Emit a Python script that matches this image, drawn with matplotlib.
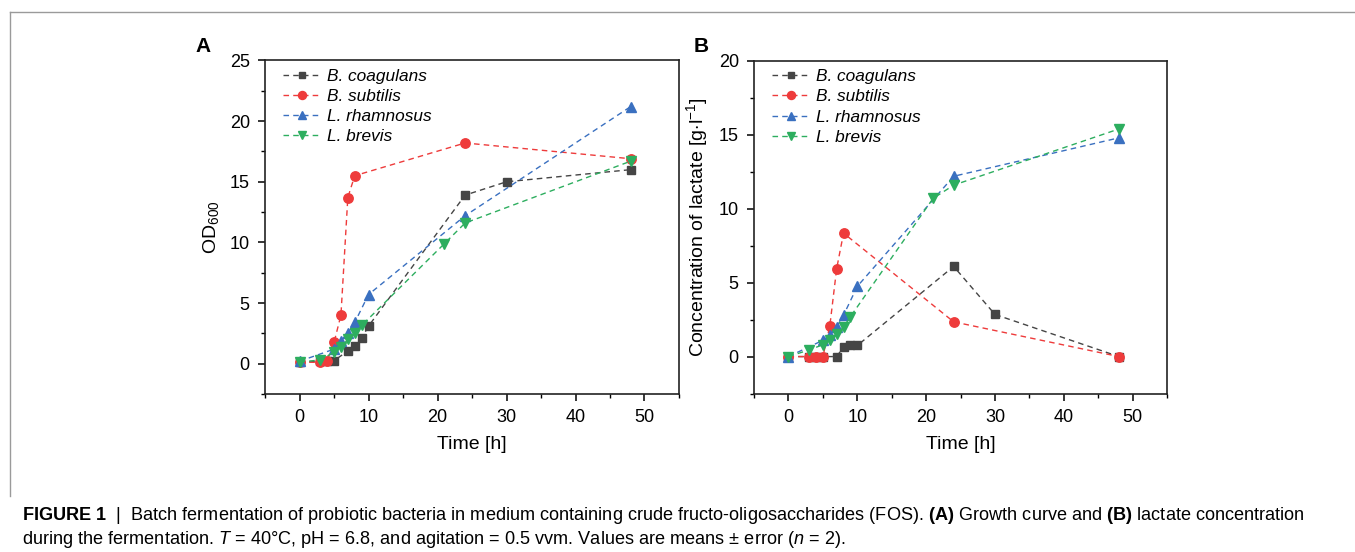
import matplotlib
matplotlib.use("Agg")
import matplotlib.pyplot as plt
from matplotlib.lines import Line2D
from matplotlib.ticker import MultipleLocator

plt.rcParams["font.family"] = ["Liberation Sans", "DejaVu Sans"]
plt.rcParams["mathtext.fontset"] = "custom"
plt.rcParams["mathtext.rm"] = "Liberation Sans"
plt.rcParams["mathtext.it"] = "Liberation Sans:italic"
plt.rcParams["mathtext.bf"] = "Liberation Sans:bold"

names = ["B. coagulans", "B. subtilis", "L. rhamnosus", "L. brevis"]
colors = ["#454545", "#EE3B3B", "#3A70C0", "#2DAE5F"]
markers = ["s", "o", "^", "v"]

# (A) growth, OD600
od_time = {
    "B. coagulans": [0, 3, 4, 5, 7, 8, 9, 10, 24, 30, 48],
    "B. subtilis": [0, 3, 4, 5, 6, 7, 8, 24, 48],
    "L. rhamnosus": [0, 5, 6, 7, 8, 10, 24, 48],
    "L. brevis": [0, 3, 5, 6, 7, 8, 9, 21, 24, 48],
}
od_vals = {
    "B. coagulans": [0.1, 0.2, 0.2, 0.25, 1.05, 1.5, 2.1, 3.1, 13.9, 15.0, 16.0],
    "B. subtilis": [0.15, 0.1, 0.25, 1.75, 4.0, 13.7, 15.5, 18.2, 16.9],
    "L. rhamnosus": [0.2, 1.2, 1.9, 2.5, 3.4, 5.7, 12.2, 21.2],
    "L. brevis": [0.15, 0.3, 0.95, 1.35, 2.0, 2.5, 3.15, 9.9, 11.6, 16.7],
}

# (B) lactate g/l
lac_time = {
    "B. coagulans": [0, 3, 4, 5, 7, 8, 9, 10, 24, 30, 48],
    "B. subtilis": [0, 3, 4, 5, 6, 7, 8, 24, 48],
    "L. rhamnosus": [0, 5, 6, 7, 8, 10, 24, 48],
    "L. brevis": [0, 3, 5, 6, 7, 8, 9, 21, 24, 48],
}
lac_vals = {
    "B. coagulans": [0, 0, 0, 0, 0, 0.65, 0.8, 0.75, 6.1, 2.85, 0],
    "B. subtilis": [0, 0, 0, 0, 2.05, 5.95, 8.35, 2.35, 0],
    "L. rhamnosus": [0, 1.1, 1.45, 2.0, 2.8, 4.75, 12.2, 14.8],
    "L. brevis": [0, 0.45, 0.8, 1.1, 1.5, 2.0, 2.7, 10.7, 11.6, 15.4],
}

fig = plt.figure(figsize=(13.55, 5.52), dpi=100)
axA = fig.add_axes([0.1956, 0.2862, 0.3055, 0.6042])
axB = fig.add_axes([0.5565, 0.2871, 0.3048, 0.6024])


def draw_panel(ax, tdict, vdict, ylim, ymajor, ylabel):
    for name, c, m in zip(names, colors, markers):
        ms = 5.8 if m == "s" else 6.8
        ax.plot(tdict[name], vdict[name], color=c, ls=(0, (4, 3)), lw=1,
                marker=m, ms=ms, mfc=c, mec=c, label=name)
    ax.set_xlim(-5, 55)
    ax.set_ylim(*ylim)
    ax.xaxis.set_major_locator(MultipleLocator(10))
    ax.xaxis.set_minor_locator(MultipleLocator(5))
    ax.yaxis.set_major_locator(MultipleLocator(ymajor))
    ax.yaxis.set_minor_locator(MultipleLocator(ymajor / 2))
    ax.tick_params(which="major", direction="out", length=5, width=1.1,
                   labelsize=13, top=False, right=False, pad=6)
    ax.tick_params(which="minor", direction="out", length=3, width=1,
                   top=False, right=False)
    for s in ax.spines.values():
        s.set_linewidth(1.2)
        s.set_color("#222222")
    ax.set_xlabel("Time [h]", fontsize=14, labelpad=7)
    ax.set_ylabel(ylabel, fontsize=14, labelpad=6)
    leg = ax.legend(loc="upper left", bbox_to_anchor=(0.015, 1.012), frameon=False,
                    fontsize=12.4, handlelength=2.2, handletextpad=0.35,
                    labelspacing=0.3, borderaxespad=0.3, markerscale=0.85)
    for t in leg.get_texts():
        t.set_fontstyle("italic")


draw_panel(axA, od_time, od_vals, (-2.5, 25), 5, "OD$_{600}$")
draw_panel(axB, lac_time, lac_vals, (-2.5, 20), 5,
           "Concentration of lactate [g$\\cdot$l$^{-1}$]")

fig.text(195 / 1355, 1 - 47 / 552, "A", fontsize=15, fontweight="bold",
         va="center", ha="left")
fig.text(694 / 1355, 1 - 47 / 552, "B", fontsize=15, fontweight="bold",
         va="center", ha="left")

# frame lines
fig.add_artist(Line2D([10 / 1355, 1.0], [1 - 12 / 552, 1 - 12 / 552],
                      color="#9a9a9a", lw=1, transform=fig.transFigure))
fig.add_artist(Line2D([10 / 1355, 10 / 1355], [1 - 12 / 552, 1 - 496 / 552],
                      color="#9a9a9a", lw=1, transform=fig.transFigure))

cap1 = ("$\\mathbf{FIGURE\\ 1}$  |  Batch fermentation of probiotic bacteria in medium "
        "containing crude fructo-oligosaccharides (FOS). $\\mathbf{(A)}$ Growth curve "
        "and $\\mathbf{(B)}$ lactate concentration")
cap2 = ("during the fermentation. $\\mathit{T}$ = 40\u00b0C, pH = 6.8, and agitation = "
        "0.5 vvm. Values are means \u00b1 error ($\\mathit{n}$ = 2).")
fig.text(22 / 1355, 1 - 516 / 552, cap1, fontsize=13.1, va="center", ha="left")
fig.text(22 / 1355, 1 - 539 / 552, cap2, fontsize=13.1, va="center", ha="left")

fig.savefig("out.png", dpi=100)
